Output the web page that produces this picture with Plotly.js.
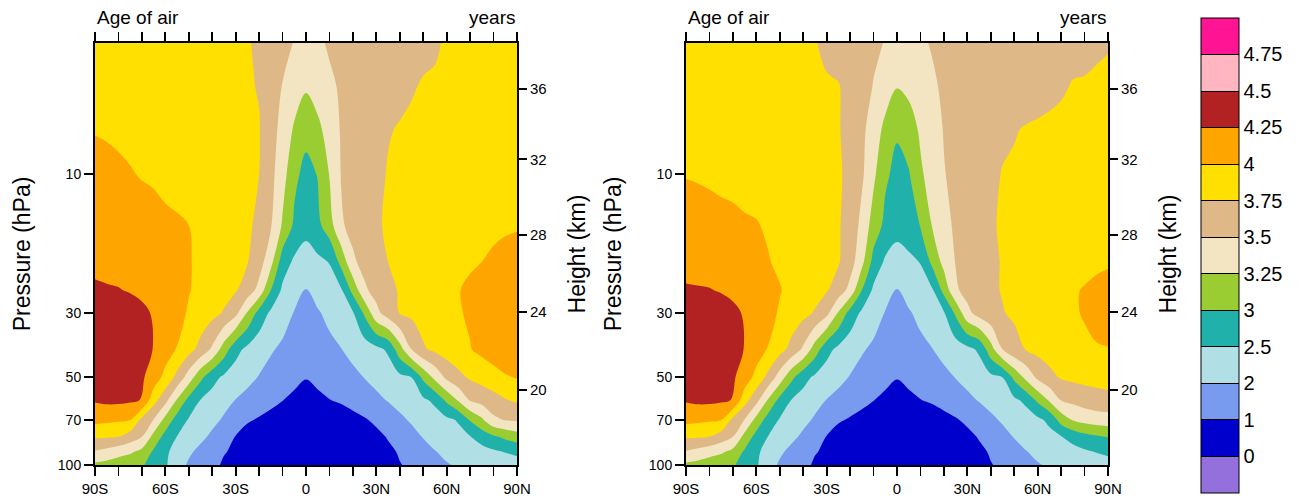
<!DOCTYPE html>
<html>
<head>
<meta charset="utf-8">
<script src="https://cdn.plot.ly/plotly-3.0.1.min.js"></script>
<style>
  html, body { margin: 0; padding: 0; background: #ffffff; }
  #chart { width: 1302px; height: 504px; }
</style>
</head>
<body>
<div id="chart"></div>
<script>
// Zonal-mean age of air (years) on latitude x pressure grids, two model runs.
const latitudes = [-90,-85,-80,-75,-70,-65,-60,-55,-50,-45,-40,-35,-30,-25,-20,-15,-10,-5,0,
                   5,10,15,20,25,30,35,40,45,50,55,60,65,70,75,80,85,90];
const pressureLevels = [100, 90, 80, 70, 60, 50, 40, 30, 25, 20, 15, 10, 7, 5, 3.54];

// rows follow pressureLevels, columns follow latitudes
const ageLeft = [
  [3.20,3.16,3.11,3.07,3.02,2.85,2.56,2.21,1.86,1.50,1.14,0.93,0.82,0.71,0.60,0.55,0.50,0.45,0.40,0.45,0.50,0.55,0.60,0.69,0.78,0.87,0.96,1.16,1.42,1.68,1.95,2.04,2.09,2.14,2.20,2.25,2.30],
  [3.48,3.42,3.35,3.29,3.18,2.93,2.59,2.32,2.08,1.75,1.39,1.03,0.92,0.84,0.75,0.71,0.68,0.64,0.60,0.64,0.68,0.71,0.75,0.82,0.89,0.80,1.09,1.39,1.68,1.97,2.08,2.17,2.25,2.34,2.43,2.52,2.60],
  [3.78,3.77,3.75,3.63,3.50,3.17,2.82,2.49,2.30,2.11,1.82,1.37,0.97,0.60,0.50,0.45,0.40,0.35,0.30,0.35,0.40,0.45,0.50,0.60,0.75,1.07,1.40,1.73,2.02,2.14,2.25,2.36,2.48,2.69,2.92,3.05,3.13],
  [4.07,4.05,4.03,4.00,3.68,3.49,3.17,2.78,2.46,2.29,2.12,1.88,1.50,1.11,0.90,0.70,0.50,0.38,0.30,0.32,0.36,0.47,0.68,0.91,1.19,1.51,1.83,2.05,2.17,2.28,2.40,2.54,3.02,3.21,3.45,3.51,3.53],
  [4.27,4.30,4.30,4.28,4.24,3.84,3.57,3.22,2.84,2.48,2.31,2.15,1.97,1.73,1.49,1.25,1.01,0.77,0.70,0.78,0.97,1.12,1.35,1.57,1.80,2.02,2.14,2.27,2.40,2.60,3.04,3.27,3.51,3.58,3.65,3.73,3.78],
  [4.38,4.39,4.40,4.34,4.28,4.14,3.92,3.68,3.38,3.06,2.66,2.41,2.26,2.12,1.95,1.73,1.50,1.28,1.03,1.24,1.44,1.63,1.82,2.01,2.13,2.25,2.38,2.50,3.05,3.31,3.55,3.68,3.78,3.84,3.91,3.98,4.01],
  [4.42,4.43,4.44,4.40,4.35,4.24,4.12,3.99,3.84,3.67,3.46,3.13,2.66,2.38,2.21,2.04,1.86,1.68,1.50,1.66,1.82,1.98,2.11,2.25,2.38,2.57,3.15,3.50,3.72,3.80,3.87,3.93,3.99,4.06,4.12,4.14,4.15],
  [4.38,4.40,4.42,4.37,4.32,4.22,4.14,4.06,3.98,3.90,3.82,3.73,3.57,3.23,2.81,2.41,2.17,1.96,1.80,1.93,2.09,2.28,2.46,3.04,3.43,3.62,3.76,3.80,3.85,3.90,3.94,3.98,4.03,4.11,4.18,4.19,4.20],
  [4.28,4.27,4.26,4.23,4.18,4.12,4.08,4.05,4.01,3.95,3.89,3.83,3.77,3.64,3.42,3.00,2.41,2.20,1.98,2.14,2.29,2.45,3.08,3.46,3.59,3.69,3.77,3.81,3.85,3.90,3.94,3.99,4.04,4.10,4.15,4.18,4.20],
  [4.20,4.18,4.16,4.14,4.12,4.09,4.07,4.04,4.01,3.97,3.91,3.86,3.81,3.76,3.61,3.33,2.75,2.42,2.30,2.40,2.52,3.08,3.46,3.58,3.67,3.75,3.79,3.82,3.85,3.88,3.91,3.94,3.97,4.00,4.04,4.07,4.10],
  [4.12,4.11,4.10,4.08,4.07,4.05,4.03,4.02,4.00,3.95,3.91,3.87,3.83,3.78,3.71,3.52,3.22,2.91,2.65,2.87,3.14,3.47,3.57,3.65,3.73,3.77,3.80,3.83,3.85,3.88,3.89,3.91,3.92,3.94,3.95,3.97,3.98],
  [4.06,4.05,4.03,4.01,3.99,3.98,3.96,3.94,3.92,3.89,3.87,3.84,3.81,3.78,3.75,3.57,3.35,3.06,2.85,3.01,3.26,3.51,3.58,3.65,3.71,3.76,3.78,3.80,3.81,3.83,3.85,3.86,3.87,3.88,3.88,3.89,3.90],
  [3.99,3.98,3.97,3.96,3.95,3.93,3.92,3.90,3.89,3.87,3.85,3.83,3.80,3.78,3.76,3.60,3.42,3.22,3.08,3.19,3.36,3.52,3.57,3.63,3.68,3.74,3.76,3.77,3.78,3.79,3.80,3.81,3.82,3.83,3.83,3.84,3.85],
  [3.95,3.94,3.93,3.92,3.90,3.89,3.88,3.86,3.85,3.83,3.81,3.80,3.78,3.77,3.74,3.61,3.49,3.38,3.28,3.37,3.47,3.52,3.56,3.60,3.63,3.67,3.71,3.74,3.76,3.76,3.77,3.78,3.79,3.80,3.80,3.81,3.82],
  [3.92,3.91,3.90,3.89,3.87,3.86,3.85,3.83,3.82,3.81,3.80,3.78,3.77,3.76,3.73,3.65,3.57,3.49,3.40,3.47,3.52,3.54,3.57,3.59,3.62,3.64,3.67,3.70,3.72,3.74,3.76,3.76,3.77,3.78,3.79,3.79,3.80]
];

const ageRight = [
  [3.20,3.16,3.11,3.07,3.02,2.85,2.56,2.21,1.86,1.50,1.14,0.93,0.82,0.71,0.60,0.55,0.50,0.45,0.40,0.45,0.50,0.55,0.60,0.69,0.78,0.87,0.96,1.16,1.42,1.68,1.95,2.04,2.09,2.14,2.20,2.25,2.30],
  [3.48,3.42,3.35,3.29,3.18,2.93,2.59,2.32,2.08,1.75,1.39,1.03,0.92,0.84,0.75,0.71,0.68,0.64,0.60,0.64,0.68,0.71,0.75,0.82,0.89,0.80,1.09,1.39,1.68,1.97,2.08,2.17,2.25,2.34,2.43,2.52,2.60],
  [3.78,3.77,3.75,3.63,3.50,3.17,2.82,2.49,2.30,2.11,1.82,1.37,0.97,0.60,0.50,0.45,0.40,0.35,0.30,0.35,0.40,0.45,0.50,0.60,0.75,1.07,1.40,1.73,2.02,2.14,2.25,2.36,2.48,2.66,2.84,2.94,3.01],
  [4.07,4.05,4.03,4.00,3.68,3.49,3.17,2.78,2.46,2.29,2.12,1.88,1.50,1.11,0.90,0.70,0.50,0.38,0.30,0.32,0.36,0.47,0.68,0.91,1.19,1.51,1.83,2.05,2.17,2.28,2.40,2.60,3.10,3.26,3.33,3.37,3.39],
  [4.27,4.30,4.30,4.28,4.24,3.84,3.57,3.22,2.84,2.48,2.31,2.15,1.97,1.73,1.49,1.25,1.01,0.77,0.70,0.78,0.97,1.12,1.35,1.57,1.80,2.02,2.14,2.27,2.40,2.60,3.04,3.27,3.50,3.56,3.61,3.65,3.67],
  [4.38,4.39,4.40,4.34,4.28,4.14,3.92,3.68,3.38,3.06,2.66,2.41,2.26,2.12,1.95,1.73,1.50,1.28,1.03,1.24,1.44,1.63,1.82,2.01,2.13,2.25,2.38,2.50,3.05,3.31,3.55,3.68,3.77,3.80,3.82,3.83,3.84],
  [4.42,4.43,4.44,4.40,4.35,4.24,4.12,3.99,3.84,3.67,3.46,3.13,2.66,2.38,2.21,2.04,1.86,1.68,1.50,1.66,1.82,1.98,2.11,2.25,2.38,2.57,3.15,3.50,3.68,3.76,3.82,3.86,3.89,3.92,3.95,3.98,3.99],
  [4.38,4.40,4.42,4.37,4.32,4.22,4.14,4.06,3.98,3.90,3.82,3.73,3.57,3.23,2.81,2.41,2.17,1.96,1.80,1.93,2.09,2.28,2.46,3.04,3.43,3.60,3.68,3.74,3.78,3.82,3.86,3.90,3.93,3.97,4.02,4.08,4.12],
  [4.28,4.27,4.26,4.23,4.18,4.12,4.08,4.05,4.01,3.95,3.89,3.83,3.77,3.64,3.42,3.00,2.41,2.20,1.98,2.14,2.29,2.45,3.08,3.46,3.59,3.67,3.72,3.76,3.80,3.84,3.87,3.90,3.93,3.97,4.02,4.08,4.12],
  [4.15,4.14,4.13,4.11,4.09,4.07,4.05,4.01,3.97,3.93,3.89,3.85,3.81,3.77,3.61,3.32,2.83,2.43,2.32,2.39,2.52,3.06,3.33,3.51,3.58,3.65,3.72,3.76,3.77,3.79,3.81,3.83,3.85,3.87,3.90,3.93,3.96],
  [4.10,4.09,4.07,4.05,4.04,4.02,4.01,3.98,3.94,3.91,3.88,3.84,3.81,3.77,3.66,3.43,3.14,2.88,2.65,2.78,3.01,3.26,3.42,3.54,3.61,3.68,3.74,3.76,3.78,3.79,3.81,3.82,3.84,3.85,3.87,3.88,3.90],
  [3.99,3.98,3.97,3.96,3.95,3.94,3.93,3.91,3.89,3.86,3.84,3.82,3.79,3.77,3.71,3.54,3.30,3.04,2.87,2.96,3.21,3.36,3.49,3.55,3.60,3.65,3.70,3.76,3.77,3.78,3.79,3.80,3.81,3.82,3.83,3.84,3.85],
  [3.97,3.96,3.95,3.94,3.93,3.92,3.90,3.88,3.86,3.84,3.82,3.80,3.78,3.76,3.70,3.56,3.38,3.19,3.03,3.13,3.29,3.41,3.51,3.55,3.59,3.63,3.67,3.71,3.74,3.76,3.77,3.78,3.79,3.80,3.80,3.81,3.82],
  [3.94,3.93,3.91,3.90,3.89,3.87,3.86,3.84,3.83,3.81,3.80,3.79,3.77,3.76,3.69,3.59,3.49,3.37,3.26,3.31,3.39,3.48,3.52,3.54,3.56,3.58,3.60,3.62,3.65,3.67,3.69,3.71,3.73,3.76,3.76,3.77,3.78],
  [3.90,3.89,3.88,3.86,3.85,3.84,3.82,3.81,3.80,3.78,3.77,3.76,3.71,3.67,3.63,3.59,3.54,3.49,3.45,3.44,3.48,3.51,3.53,3.55,3.57,3.59,3.61,3.63,3.65,3.66,3.67,3.68,3.69,3.70,3.72,3.73,3.74]
];

// contour levels and the colour of each band (below the first level ... above the last)
const levelValues = [0, 1, 2, 2.5, 3, 3.25, 3.5, 3.75, 4, 4.25, 4.5, 4.75];
const levelLabels = ['0','1','2','2.5','3','3.25','3.5','3.75','4','4.25','4.5','4.75'];
const bandColors = ['#9370DB','#0000CD','#789BEF','#B0E0E6','#20B2AA','#9ACD32',
                    '#F3E4C2','#DEB887','#FFE000','#FFA500','#B22222','#FFB6C1','#FF1493'];

const latTickVals = [-90, -60, -30, 0, 30, 60, 90];
const latTickText = ['90S', '60S', '30S', '0', '30N', '60N', '90N'];
const pressureTicks = [10, 30, 50, 70, 100];
const heightKm = [20, 24, 28, 32, 36];
const heightPressure = [55.3, 29.8, 16.2, 8.9, 5.1];   // standard-atmosphere pressure (hPa) of each height

// The levels are unevenly spaced, so values are placed on a level-index scale
// (0 -> 0, 1 -> 1, 2 -> 2, 2.5 -> 3, ...) where Plotly's evenly spaced contours apply.
function toLevelIndex(v) {
  const L = levelValues;
  if (v < L[0]) return v - L[0];
  for (let i = 0; i < L.length - 1; i++) {
    if (v < L[i + 1]) return i + (v - L[i]) / (L[i + 1] - L[i]);
  }
  const last = L.length - 1;
  return last + (v - L[last]) / (L[last] - L[last - 1]);
}

const nBands = bandColors.length;          // 13 bands around 12 levels
const nLevels = levelValues.length;
// fill colours sampled at band centres by the contour traces
const colorscale = bandColors.map((c, k) => [k / (nBands - 1), c]);
// the same colours as equal steps for the label bar
const steppedScale = [];
bandColors.forEach((c, k) => { steppedScale.push([k / nBands, c], [(k + 1) / nBands, c]); });

const contourSpec = { start: 0, end: nLevels - 1, size: 1, coloring: 'fill', showlines: false };

const FONT = 'Liberation Sans, Arial, Helvetica, sans-serif';
const W = 1302, H = 504;
const plotTop = 43, plotBottom = 465;
const yDomain = [(H - plotBottom) / H, (H - plotTop) / H];
const leftDomain = [95 / W, 517 / W];
const rightDomain = [686 / W, 1108 / W];
const pRange = [Math.log10(100), Math.log10(3.54)];

// label bar geometry
const barTop = 17.7, barBottom = 493, barLeft = 1201, barThick = 38;
const barLen = barBottom - barTop;
const barCenterY = (H - (barTop + barBottom) / 2) / H;

function fieldTrace(age, xa, ya) {
  return {
    type: 'contour',
    x: latitudes, y: pressureLevels,
    z: age.map(row => row.map(toLevelIndex)),
    xaxis: xa, yaxis: ya,
    colorscale: colorscale,
    contours: contourSpec,
    line: { width: 0, smoothing: 1 },
    showscale: false,
    hoverinfo: 'skip'
  };
}

// Colour boxes of the label bar (one box per band); the trace's own cells lie off the axes.
const barFillTrace = {
  type: 'heatmap',
  x: [500, 501], y: [50, 60],
  z: [[-1, nLevels], [-1, nLevels]],
  zmin: -1, zmax: nLevels,
  xaxis: 'x', yaxis: 'y',
  colorscale: steppedScale,
  hoverinfo: 'skip',
  showscale: true,
  colorbar: {
    x: barLeft / W, xanchor: 'left', xpad: 0,
    y: barCenterY, yanchor: 'middle', ypad: 0,
    len: barLen, lenmode: 'pixels',
    thickness: barThick, thicknessmode: 'pixels',
    outlinewidth: 1, outlinecolor: '#000000',
    showticklabels: false, ticks: ''
  }
};

// Separator lines and level labels of the label bar.
const barLevelTrace = {
  type: 'contour',
  x: [500, 501], y: [50, 60],
  z: [[0, nLevels - 1], [0, nLevels - 1]],
  xaxis: 'x', yaxis: 'y',
  colorscale: [[0, '#000000'], [1, '#000000']],
  contours: { start: 0, end: nLevels - 1, size: 1, coloring: 'lines', showlines: true },
  line: { width: 1 },
  hoverinfo: 'skip',
  showscale: true,
  colorbar: {
    x: barLeft / W, xanchor: 'left', xpad: 0,
    y: barCenterY, yanchor: 'middle', ypad: 0,
    len: barLen * (nLevels - 1) / nBands, lenmode: 'pixels',
    thickness: barThick, thicknessmode: 'pixels',
    outlinewidth: 0, bgcolor: 'rgba(0,0,0,0)',
    tickmode: 'array',
    tickvals: levelValues.map((v, i) => i),
    ticktext: levelLabels,
    ticks: '', ticklen: 0,
    tickfont: { family: FONT, size: 20, color: '#000000' }
  }
};

function latAxis(domain, anchor) {
  return {
    domain: domain, anchor: anchor, range: [-90, 90],
    tickmode: 'array', tickvals: latTickVals, ticktext: latTickText,
    ticks: 'outside', ticklen: 9, tickwidth: 2, tickcolor: '#000',
    minor: { tick0: -90, dtick: 10, ticks: 'outside', ticklen: 5, tickwidth: 1.5, tickcolor: '#000' },
    showline: true, linewidth: 2, linecolor: '#000', mirror: 'allticks',
    showgrid: false, zeroline: false,
    tickfont: { family: FONT, size: 15, color: '#000' }
  };
}

function pressureAxis(anchor) {
  return {
    domain: yDomain, anchor: anchor, type: 'log', range: pRange,
    tickmode: 'array', tickvals: pressureTicks, ticktext: pressureTicks.map(String),
    ticks: 'outside', ticklen: 9, tickwidth: 2, tickcolor: '#000',
    showline: true, linewidth: 2, linecolor: '#000', mirror: true,
    showgrid: false, zeroline: false,
    tickfont: { family: FONT, size: 14, color: '#000' },
    title: { text: 'Pressure (hPa)', font: { family: FONT, size: 23, color: '#000' }, standoff: 21 }
  };
}

function heightAxis(overlay, anchor) {
  return {
    overlaying: overlay, anchor: anchor, side: 'right', type: 'log', range: pRange,
    tickmode: 'array', tickvals: heightPressure, ticktext: heightKm.map(String),
    ticks: 'outside', ticklen: 9, tickwidth: 2, tickcolor: '#000',
    showline: false, showgrid: false, zeroline: false,
    tickfont: { family: FONT, size: 15, color: '#000' },
    title: { text: 'Height (km)', font: { family: FONT, size: 23, color: '#000' }, standoff: 23 }
  };
}

function panelLabels(domain) {
  const yTop = 1 - 18 / H;
  return [
    { text: 'Age of air', xref: 'paper', yref: 'paper', x: domain[0], y: yTop,
      xanchor: 'left', yanchor: 'middle', showarrow: false,
      font: { family: FONT, size: 19, color: '#000' } },
    { text: 'years', xref: 'paper', yref: 'paper', x: domain[1], y: yTop,
      xanchor: 'right', yanchor: 'middle', showarrow: false,
      font: { family: FONT, size: 19, color: '#000' } }
  ];
}

const data = [
  fieldTrace(ageLeft, 'x', 'y'),
  fieldTrace(ageRight, 'x2', 'y3'),
  { type: 'scatter', x: [], y: [], xaxis: 'x', yaxis: 'y2', showlegend: false, hoverinfo: 'skip' },
  { type: 'scatter', x: [], y: [], xaxis: 'x2', yaxis: 'y4', showlegend: false, hoverinfo: 'skip' },
  barFillTrace,
  barLevelTrace
];

const layout = {
  width: W, height: H,
  margin: { l: 0, r: 0, t: 0, b: 0 },
  paper_bgcolor: '#ffffff', plot_bgcolor: '#ffffff',
  showlegend: false,
  font: { family: FONT, color: '#000' },
  xaxis: latAxis(leftDomain, 'y'),
  yaxis: pressureAxis('x'),
  yaxis2: heightAxis('y', 'x'),
  xaxis2: latAxis(rightDomain, 'y3'),
  yaxis3: pressureAxis('x2'),
  yaxis4: heightAxis('y3', 'x2'),
  annotations: panelLabels(leftDomain).concat(panelLabels(rightDomain))
};

Plotly.newPlot('chart', data, layout, { displayModeBar: false, staticPlot: true });
</script>
</body>
</html>
